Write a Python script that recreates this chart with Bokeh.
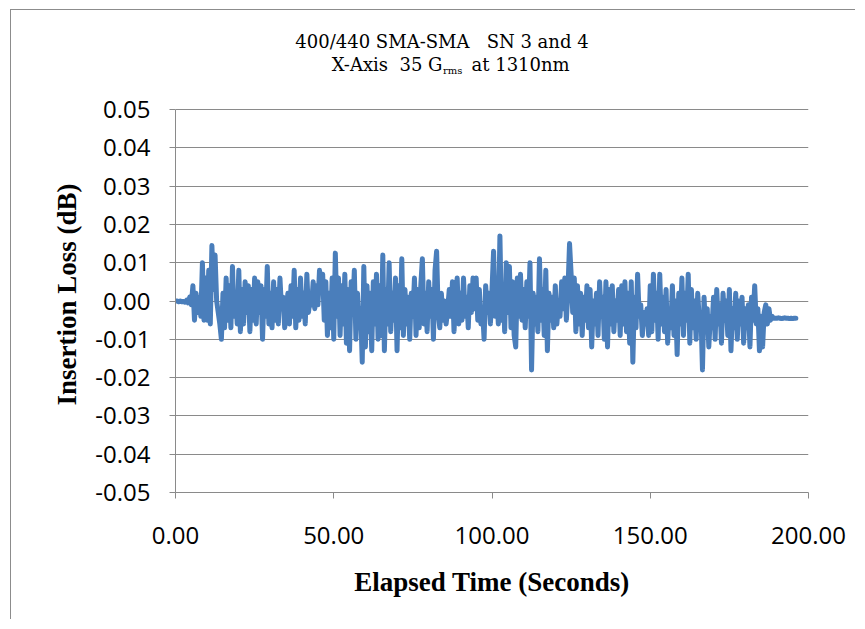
from bokeh.plotting import figure
from bokeh.models import Range1d, FixedTicker, NumeralTickFormatter, Label
from bokeh.embed import file_html
from bokeh.resources import INLINE

# Insertion loss in milli-dB, sampled every 0.5 s from 0 to 196 s
loss_mdb = [
    0, 0, -0.2, 0, -0.2, -0.1, -0.3, 0.2, -0.5, 1, -1, 4, -5, 2, -3, 1, -4, 10, -5, 6,
    -5, 8, -6, 14.5, 3, 12, 0, -3, -6, -10, 2, -7, 6, -5, 4, -7, 9, -4, 2, -6,
    8, -8, 3, -6, 5, -3, 4, -8, 3, -5, 6, -6, 5, -3, 4, -10, 3, -4, 9, -6,
    2, -7, 5, -5, 3, -6, 6, -2, 1, -7, -3, 2, -6, 4, -4, 8, -7, 3, -5, 6,
    -4, 2, -6, 7, -3, 0, -1, 5, -2, 4, -1, 8, 3, 7, -5, 5, -9, 2, -7, 6,
    -10, 12.5, -4, 6, -9, 4, -6, 7, -11, 3, -13, 5, -3, 8, -10, 2, -7, -2, -16, 9,
    -12, 4, -8, 2, -13, 5, -6, 7, -10, 4, -9, 12, -13, 3, -6, 10, -8, 2, -5, 6,
    -13, 4, -7, 11, -9, 3, -6, 1, -10, 2, -4, 6, -9, 3, -7, 4, 11, -6, 2, -8,
    5, -4, 3, -10, 8, 13, -3, -7, 2, -5, 0, -6, -2, 3, -4, 5, -8, 1, 6, -6,
    2, -5, 6, -4, 1, -7, 4, -3, 6, -2, 6, -5, 3, -6, -2, -10, 4, -3, 2, -6,
    3, 13, -4, 2, -6, 17, -5, 4, -8, 10, -3, 9, -7, 5, -9, -12, 6, -4, 7, -5,
    3, -7, 5, -4, 10, -18, 2, -6, 1, -8, 11, -5, 3, -9, 8, -13, 2, -5, 1, -7,
    4, -6, 0, -4, 5, -2, 6, -5, 3, 15, 7, -3, 6, -8, 4, -6, 2, -9, 1, -5,
    4, -7, 3, -12, 0, -6, 2, -9, 5, -4, 1, -10, 5, -12, 3, -6, 4, -8, 0, -5,
    3, -9, 4, -6, 5, -8, 2, -11, 5, -16, 1, -7, 7, -4, -1, -9, -3, -6, -2, -9,
    4, -8, 7, -5, 2, -10, 7, -6, 1, -8, 3, -11, -2, -7, 4, -9, 0, -14, 2, -6,
    6, -9, 2, -5, 7, -11, 3, -7, 0, -10, 2, -5, -3, -18, 1, -8, -2, -12, -4, -7,
    1, -10, 3, -6, -1, -11, 2, -5, 0, -9, 3, -13, -2, -7, 2, -10, 0, -6, 1, -11,
    -2, -7, -1, -12, 1, -5, 4, -6, -2, -13, -4, -12, -3, -1, -6, -2, -5, -4, -4.5, -4.5,
    -4.5, -4.4, -4.5, -4.6, -4.5, -4.4, -4.5, -4.5, -4.6, -4.5, -4.6, -4.5, -4.5,
]
sample_step_s = 0.5
elapsed_s = [i * sample_step_s for i in range(len(loss_mdb))]
loss_db = [v / 1000.0 for v in loss_mdb]

y_ticks = [-0.05, -0.04, -0.03, -0.02, -0.01, 0.0, 0.01, 0.02, 0.03, 0.04, 0.05]
x_ticks = [0, 50, 100, 150, 200]
y_axis_min, y_axis_max = -0.05, 0.05
x_axis_min, x_axis_max = 0, 200

NB = "\u00a0"
title_line1 = "400/440 SMA-SMA" + NB * 3 + "SN 3 and 4"
title_line2a = "X-Axis" + NB * 2 + "35 G"
title_line2b = "rms"
title_line2c = "at 1310nm"
x_label = "Elapsed Time (Seconds)"
y_label = "Insertion Loss (dB)"

W, H = 855, 619
FL, FR, FB = 175, 808, 492      # frame edges in figure pixels
AXT = 109                        # pixel row of the top of the value axis (0.05)
FT = 15                          # frame top (extra room above the axis holds the title)
px_per_unit = (FB - AXT) / (y_axis_max - y_axis_min)
y_top = y_axis_max + (AXT - FT) / px_per_unit
x_per_px = (x_axis_max - x_axis_min) / (FR - FL)


def ydat(py):
    return y_axis_max + (AXT - py) / px_per_unit


def xdat(px):
    return x_axis_min + (px - FL) * x_per_px


p = figure(width=W, height=H, output_backend="svg", toolbar_location=None,
           x_range=Range1d(x_axis_min, x_axis_max), y_range=Range1d(y_axis_min, y_top),
           min_border_left=FL, min_border_right=W - FR, min_border_top=FT,
           min_border_bottom=H - FB)
p.styles = {
    "background-color": "white",
    "background-image": "linear-gradient(#8c8c8c, #8c8c8c), linear-gradient(#8c8c8c, #8c8c8c)",
    "background-size": "1px 100%, 100% 1px",
    "background-position": "10px 9px, 10px 9px",
    "background-repeat": "no-repeat",
}
p.outline_line_color = None
p.background_fill_color = "white"
p.border_fill_color = None

p.line(elapsed_s, loss_db, line_color="#4a7ebb", line_width=5,
       line_join="round", line_cap="round")

grid_col = "#8a8a8a"
p.xgrid.grid_line_color = None
p.ygrid.grid_line_color = grid_col
p.ygrid.ticker = FixedTicker(ticks=y_ticks)

for ax in (p.xaxis[0], p.yaxis[0]):
    ax.axis_line_color = grid_col
    ax.major_tick_line_color = grid_col
    ax.minor_tick_line_color = None
    ax.major_tick_out = 6
    ax.major_tick_in = 0
    ax.formatter = NumeralTickFormatter(format="0.00")
    ax.major_label_text_font = "Open Sans"
    ax.major_label_text_font_size = "24px"
    ax.major_label_text_color = "black"
    ax.axis_label_text_font = "Liberation Serif"
    ax.axis_label_text_font_style = "bold"
    ax.axis_label_text_font_size = "27px"
    ax.axis_label_text_color = "black"

p.xaxis[0].ticker = FixedTicker(ticks=x_ticks)
p.yaxis[0].ticker = FixedTicker(ticks=y_ticks)
p.yaxis[0].bounds = (y_axis_min, y_axis_max)
p.xaxis[0].axis_label = x_label
# the frame reaches above the axis, so pad the label end to keep it centred on the axis
p.yaxis[0].axis_label = y_label + NB * 12
p.xaxis[0].major_label_standoff = 28
p.yaxis[0].major_label_standoff = 19
p.xaxis[0].axis_label_standoff = 20
p.yaxis[0].axis_label_standoff = 10

tfont = "DejaVu Serif"
common = dict(text_font=tfont, text_baseline="middle", text_color="black")
p.add_layout(Label(x=xdat(441.5), y=ydat(41), text=title_line1,
                   text_font_size="18px", text_align="center", **common))
p.add_layout(Label(x=xdat(442), y=ydat(64), text=title_line2a,
                   text_font_size="18px", text_align="right", **common))
p.add_layout(Label(x=xdat(442.5), y=ydat(70), text=title_line2b,
                   text_font_size="10px", text_align="left", **common))
p.add_layout(Label(x=xdat(471), y=ydat(64), text=title_line2c,
                   text_font_size="18px", text_align="left", **common))

open("out.html", "w").write(file_html(p, INLINE))
